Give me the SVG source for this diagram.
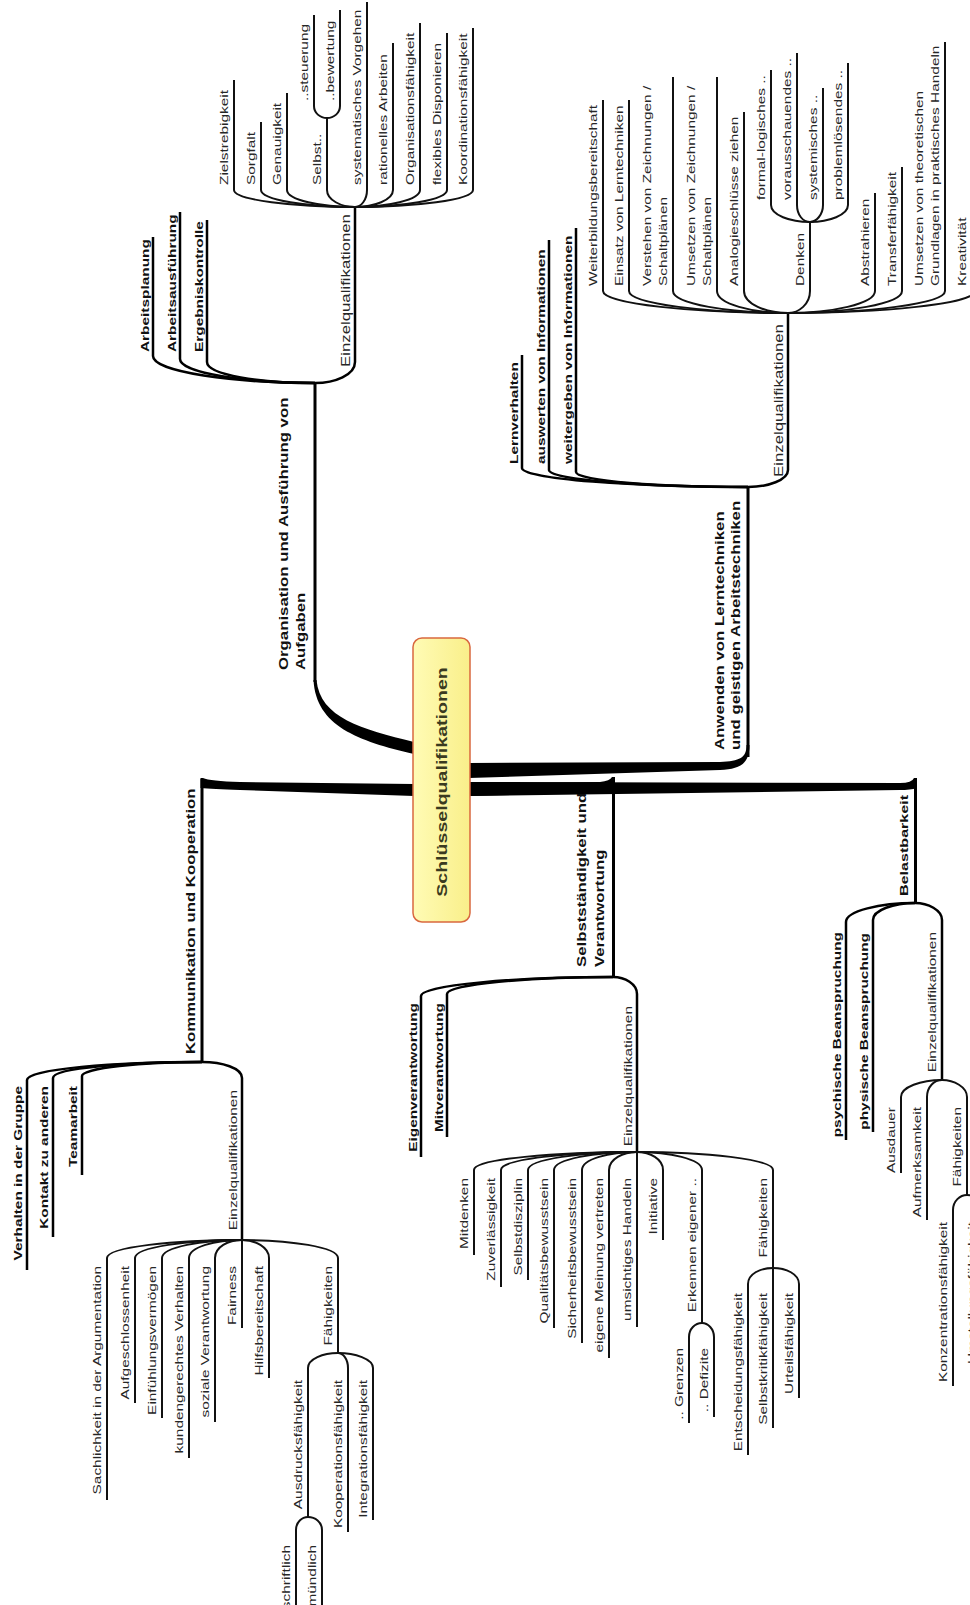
<svg xmlns="http://www.w3.org/2000/svg" width="970" height="1605" viewBox="0 0 970 1605">
<defs>
<style>
text{font-family:"Liberation Sans",Arial,Helvetica,sans-serif}
.b1{font-weight:bold;font-size:12px;fill:#111}
.b2{font-weight:bold;font-size:11px;fill:#111}
.r1{font-size:12px;fill:#262626}
.r2{font-size:11px;fill:#262626}
.e{text-anchor:end}
.root{font-weight:bold;font-size:14px;fill:#3a3a20;text-anchor:middle}
.l0{fill:none;stroke:#000;stroke-width:3}
.l1{fill:none;stroke:#000;stroke-width:2.5}
.l2{fill:none;stroke:#111;stroke-width:2}
.trunk{fill:#000}
</style>
<linearGradient id="boxg" x1="0" y1="0" x2="1" y2="0">
<stop offset="0" stop-color="#fffbb5"/>
<stop offset="1" stop-color="#f9ef8a"/>
</linearGradient>
</defs>
<rect width="970" height="1605" fill="#fff"/>

<g id="connectors">
<!-- trunks from root -->
<path class="trunk" d="M414,742 C362,729 320,718 316.5,680 L313.5,680 C316,726 358,741 414,754 Z"/>
<path class="trunk" d="M414,784 L240,782 Q210,781 203,778 L200.5,778 L200.5,788 Q212,789 240,790 L414,796 Z"/>
<path class="trunk" d="M469,763 L720,762 C740,761 746.5,758 746.5,745 L749.5,745 C749.5,764 740,769 720,770 L469,778 Z"/>
<path class="trunk" d="M469,783 L600,782 Q610,781 612,777 L615,777 L615,792 L469,796 Z"/>
<path class="trunk" d="M469,782 L900,783 Q912,783 914,778 L917,778 L917,788 Q910,790 900,790 L469,796 Z"/>
<!-- level-1 stems -->
<path class="l0" d="M315,682 V383"/>
<path class="l0" d="M748,757 V487"/>
<path class="l0" d="M202,779 V1062"/>
<path class="l0" d="M613.5,778 V977"/>
<path class="l0" d="M915.5,778 V903"/>

<!-- Organisation -->
<path class="l1" d="M153,237 V356 C153,372 234,383 315,383"/>
<path class="l1" d="M180,212 V359 C180,373 247,383 315,383"/>
<path class="l1" d="M207,220 V362 C207,375 261,383 315,383"/>
<path class="l1" d="M355,207 V362 C355,375 335,383 315,383"/>
<path class="l2" d="M234,80 V190 C234,200 294,207 355,207"/>
<path class="l2" d="M261,122 V190 C261,200 308,207 355,207"/>
<path class="l2" d="M287,93 V190 C287,200 321,207 355,207"/>
<path class="l2" d="M327,118 V190 C327,200 341,207 355,207"/>
<path class="l2" d="M367,2 V190 C367,200 361,207 355,207"/>
<path class="l2" d="M393,43 V190 C393,200 374,207 355,207"/>
<path class="l2" d="M420,23 V190 C420,200 387,207 355,207"/>
<path class="l2" d="M447,33 V190 C447,200 401,207 355,207"/>
<path class="l2" d="M473,28 V190 C473,200 414,207 355,207"/>
<path class="l2" d="M314,15 V106 C314,113 320,118 327,118"/>
<path class="l2" d="M340,10 V106 C340,113 334,118 327,118"/>

<!-- Anwenden -->
<path class="l1" d="M522,355 V468 C522,479 635,487 748,487"/>
<path class="l1" d="M549,240 V470 C549,480 648,487 748,487"/>
<path class="l1" d="M576,228 V472 C576,481 662,487 748,487"/>
<path class="l1" d="M788,313 V470 C788,480 768,487 748,487"/>
<path class="l2" d="M603,100 V291 C603,304 695,313 788,313"/>
<path class="l2" d="M629,100 V291 C629,304 708,313 788,313"/>
<path class="l2" d="M673,77 V291 C673,304 730,313 788,313"/>
<path class="l2" d="M717,77 V291 C717,304 752,313 788,313"/>
<path class="l2" d="M744,112 V291 C744,304 766,313 788,313"/>
<path class="l2" d="M810,222 V291 C810,304 799,313 788,313"/>
<path class="l2" d="M875,193 V291 C875,304 831,313 788,313"/>
<path class="l2" d="M902,167 V291 C902,304 845,313 788,313"/>
<path class="l2" d="M945,42 V291 C945,304 866,313 788,313"/>
<path class="l2" d="M975,205 V291 C975,304 881,313 788,313"/>
<path class="l2" d="M771,70 V205 C771,215 790,222 810,222"/>
<path class="l2" d="M797,53 V205 C797,215 803,222 810,222"/>
<path class="l2" d="M823,88 V205 C823,215 816,222 810,222"/>
<path class="l2" d="M848,63 V205 C848,215 829,222 810,222"/>

<!-- Kommunikation -->
<path class="l1" d="M27,1270 V1080 C27,1069 114,1062 202,1062"/>
<path class="l1" d="M53,1237 V1078 C53,1068 127,1062 202,1062"/>
<path class="l1" d="M82,1175 V1076 C82,1068 142,1062 202,1062"/>
<path class="l1" d="M242,1240 V1078 C242,1068 222,1062 202,1062"/>
<path class="l2" d="M107,1500 V1258 C107,1247 174,1240 242,1240"/>
<path class="l2" d="M135,1403 V1258 C135,1247 188,1240 242,1240"/>
<path class="l2" d="M162,1418 V1258 C162,1247 202,1240 242,1240"/>
<path class="l2" d="M189,1458 V1258 C189,1247 215,1240 242,1240"/>
<path class="l2" d="M215,1422 V1258 C215,1247 228,1240 242,1240"/>
<path class="l2" d="M242,1328 V1240"/>
<path class="l2" d="M269,1378 V1258 C269,1247 255,1240 242,1240"/>
<path class="l2" d="M338,1353 V1258 C338,1247 290,1240 242,1240"/>
<path class="l2" d="M308,1517 V1368 C308,1359 323,1353 338,1353"/>
<path class="l2" d="M348,1532 V1368 C348,1359 343,1353 338,1353"/>
<path class="l2" d="M373,1520 V1368 C373,1359 355,1353 338,1353"/>
<path class="l2" d="M296,1610 V1530 C296,1522 302,1517 308,1517"/>
<path class="l2" d="M322,1610 V1530 C322,1522 315,1517 308,1517"/>

<!-- Selbststaendigkeit -->
<path class="l1" d="M421,1157 V996 C421,985 517,977 613,977"/>
<path class="l1" d="M447,1137 V994 C447,984 530,977 613,977"/>
<path class="l1" d="M637,1152 V994 C637,984 625,977 613,977"/>
<path class="l2" d="M474,1255 V1170 C474,1159 555,1152 637,1152"/>
<path class="l2" d="M501,1287 V1170 C501,1159 569,1152 637,1152"/>
<path class="l2" d="M528,1280 V1170 C528,1159 582,1152 637,1152"/>
<path class="l2" d="M554,1328 V1170 C554,1159 595,1152 637,1152"/>
<path class="l2" d="M582,1343 V1170 C582,1159 609,1152 637,1152"/>
<path class="l2" d="M609,1358 V1170 C609,1159 623,1152 637,1152"/>
<path class="l2" d="M637,1327 V1152"/>
<path class="l2" d="M663,1240 V1170 C663,1159 650,1152 637,1152"/>
<path class="l2" d="M702,1323 V1170 C702,1159 669,1152 637,1152"/>
<path class="l2" d="M773,1268 V1170 C773,1159 705,1152 637,1152"/>
<path class="l2" d="M689,1423 V1337 C689,1329 695,1323 702,1323"/>
<path class="l2" d="M714,1417 V1337 C714,1329 708,1323 702,1323"/>
<path class="l2" d="M748,1455 V1284 C748,1274 760,1268 773,1268"/>
<path class="l2" d="M773,1428 V1268"/>
<path class="l2" d="M799,1398 V1284 C799,1274 786,1268 773,1268"/>

<!-- Belastbarkeit -->
<path class="l1" d="M846,1140 V922 C846,911 880,903 915,903"/>
<path class="l1" d="M873,1132 V920 C873,910 894,903 915,903"/>
<path class="l1" d="M942,1080 V920 C942,910 928,903 915,903"/>
<path class="l2" d="M901,1173 V1097 C901,1087 921,1080 942,1080"/>
<path class="l2" d="M927,1220 V1097 C927,1087 934,1080 942,1080"/>
<path class="l2" d="M967,1195 V1097 C967,1087 954,1080 942,1080"/>
<path class="l2" d="M953,1386 V1210 C953,1201 960,1195 967,1195"/>
<path class="l2" d="M982,1384 V1210 C982,1201 974,1195 967,1195"/>
</g>

<g id="root">
<rect x="413" y="638" width="57" height="284" rx="9" fill="url(#boxg)" stroke="#d9683f" stroke-width="1.5"/>
<text class="root" transform="translate(447,782) rotate(-90) scale(1.4,1)">Schlüsselqualifikationen</text>
</g>

<g id="n-organisation">
<text class="b1" transform="translate(288,670) rotate(-90) scale(1.4,1)">Organisation und Ausführung von</text>
<text class="b1" transform="translate(305,670) rotate(-90) scale(1.4,1)">Aufgaben</text>
</g>
<g id="n-arbeitsplanung"><text class="b2" transform="translate(149,352) rotate(-90) scale(1.4,1)">Arbeitsplanung</text></g>
<g id="n-arbeitsausfuehrung"><text class="b2" transform="translate(176,352) rotate(-90) scale(1.4,1)">Arbeitsausführung</text></g>
<g id="n-ergebniskontrolle"><text class="b2" transform="translate(203,352) rotate(-90) scale(1.4,1)">Ergebniskontrolle</text></g>
<g id="n-org-einzel"><text class="r1" transform="translate(350,367) rotate(-90) scale(1.4,1)">Einzelqualifikationen</text></g>
<g id="n-zielstrebigkeit"><text class="r2" transform="translate(228,185) rotate(-90) scale(1.4,1)">Zielstrebigkeit</text></g>
<g id="n-sorgfalt"><text class="r2" transform="translate(255,185) rotate(-90) scale(1.4,1)">Sorgfalt</text></g>
<g id="n-genauigkeit"><text class="r2" transform="translate(281,185) rotate(-90) scale(1.4,1)">Genauigkeit</text></g>
<g id="n-selbst"><text class="r2" transform="translate(321,185) rotate(-90) scale(1.4,1)">Selbst..</text></g>
<g id="n-steuerung"><text class="r2" transform="translate(308,101) rotate(-90) scale(1.4,1)">..steuerung</text></g>
<g id="n-bewertung"><text class="r2" transform="translate(334,101) rotate(-90) scale(1.4,1)">..bewertung</text></g>
<g id="n-systematisch"><text class="r2" transform="translate(361,185) rotate(-90) scale(1.4,1)">systematisches Vorgehen</text></g>
<g id="n-rationell"><text class="r2" transform="translate(387,185) rotate(-90) scale(1.4,1)">rationelles Arbeiten</text></g>
<g id="n-organisationsf"><text class="r2" transform="translate(414,185) rotate(-90) scale(1.4,1)">Organisationsfähigkeit</text></g>
<g id="n-flexibel"><text class="r2" transform="translate(441,185) rotate(-90) scale(1.4,1)">flexibles Disponieren</text></g>
<g id="n-koordination"><text class="r2" transform="translate(467,185) rotate(-90) scale(1.4,1)">Koordinationsfähigkeit</text></g>

<g id="n-anwenden">
<text class="b1" transform="translate(724,750) rotate(-90) scale(1.4,1)">Anwenden von Lerntechniken</text>
<text class="b1" transform="translate(740,750) rotate(-90) scale(1.4,1)">und geistigen Arbeitstechniken</text>
</g>
<g id="n-lernverhalten"><text class="b2" transform="translate(518,464) rotate(-90) scale(1.4,1)">Lernverhalten</text></g>
<g id="n-auswerten"><text class="b2" transform="translate(545,464) rotate(-90) scale(1.4,1)">auswerten von Informationen</text></g>
<g id="n-weitergeben"><text class="b2" transform="translate(572,464) rotate(-90) scale(1.4,1)">weitergeben von Informationen</text></g>
<g id="n-anw-einzel"><text class="r1" transform="translate(783,477) rotate(-90) scale(1.4,1)">Einzelqualifikationen</text></g>
<g id="n-weiterbildung"><text class="r2" transform="translate(597,286) rotate(-90) scale(1.4,1)">Weiterbildungsbereitschaft</text></g>
<g id="n-einsatz"><text class="r2" transform="translate(623,286) rotate(-90) scale(1.4,1)">Einsatz von Lerntechniken</text></g>
<g id="n-verstehen">
<text class="r2" transform="translate(651,286) rotate(-90) scale(1.4,1)">Verstehen von Zeichnungen /</text>
<text class="r2" transform="translate(667,286) rotate(-90) scale(1.4,1)">Schaltplänen</text>
</g>
<g id="n-umsetzen">
<text class="r2" transform="translate(695,286) rotate(-90) scale(1.4,1)">Umsetzen von Zeichnungen /</text>
<text class="r2" transform="translate(711,286) rotate(-90) scale(1.4,1)">Schaltplänen</text>
</g>
<g id="n-analogie"><text class="r2" transform="translate(738,286) rotate(-90) scale(1.4,1)">Analogieschlüsse ziehen</text></g>
<g id="n-denken"><text class="r2" transform="translate(804,286) rotate(-90) scale(1.4,1)">Denken</text></g>
<g id="n-formal"><text class="r2" transform="translate(765,200) rotate(-90) scale(1.4,1)">formal-logisches ..</text></g>
<g id="n-voraus"><text class="r2" transform="translate(791,200) rotate(-90) scale(1.4,1)">vorausschauendes ..</text></g>
<g id="n-systemisch"><text class="r2" transform="translate(817,200) rotate(-90) scale(1.4,1)">systemisches ..</text></g>
<g id="n-problem"><text class="r2" transform="translate(842,200) rotate(-90) scale(1.4,1)">problemlösendes ..</text></g>
<g id="n-abstrahieren"><text class="r2" transform="translate(869,286) rotate(-90) scale(1.4,1)">Abstrahieren</text></g>
<g id="n-transfer"><text class="r2" transform="translate(896,286) rotate(-90) scale(1.4,1)">Transferfähigkeit</text></g>
<g id="n-theorie">
<text class="r2" transform="translate(923,286) rotate(-90) scale(1.4,1)">Umsetzen von theoretischen</text>
<text class="r2" transform="translate(939,286) rotate(-90) scale(1.4,1)">Grundlagen in praktisches Handeln</text>
</g>
<g id="n-kreativitaet"><text class="r2" transform="translate(966,286) rotate(-90) scale(1.4,1)">Kreativität</text></g>

<g id="n-kommunikation"><text class="b1" transform="translate(195,1054) rotate(-90) scale(1.4,1)">Kommunikation und Kooperation</text></g>
<g id="n-verhalten"><text class="b2 e" transform="translate(22,1086) rotate(-90) scale(1.4,1)">Verhalten in der Gruppe</text></g>
<g id="n-kontakt"><text class="b2 e" transform="translate(48,1086) rotate(-90) scale(1.4,1)">Kontakt zu anderen</text></g>
<g id="n-teamarbeit"><text class="b2 e" transform="translate(77,1086) rotate(-90) scale(1.4,1)">Teamarbeit</text></g>
<g id="n-kom-einzel"><text class="r2 e" transform="translate(237,1090) rotate(-90) scale(1.4,1)">Einzelqualifikationen</text></g>
<g id="n-sachlichkeit"><text class="r2 e" transform="translate(101,1266) rotate(-90) scale(1.4,1)">Sachlichkeit in der Argumentation</text></g>
<g id="n-aufgeschlossen"><text class="r2 e" transform="translate(129,1266) rotate(-90) scale(1.4,1)">Aufgeschlossenheit</text></g>
<g id="n-einfuehlung"><text class="r2 e" transform="translate(156,1266) rotate(-90) scale(1.4,1)">Einfühlungsvermögen</text></g>
<g id="n-kunden"><text class="r2 e" transform="translate(183,1266) rotate(-90) scale(1.4,1)">kundengerechtes Verhalten</text></g>
<g id="n-sozial"><text class="r2 e" transform="translate(209,1266) rotate(-90) scale(1.4,1)">soziale Verantwortung</text></g>
<g id="n-fairness"><text class="r2 e" transform="translate(236,1266) rotate(-90) scale(1.4,1)">Fairness</text></g>
<g id="n-hilfsbereit"><text class="r2 e" transform="translate(263,1266) rotate(-90) scale(1.4,1)">Hilfsbereitschaft</text></g>
<g id="n-kom-faehig"><text class="r2 e" transform="translate(332,1266) rotate(-90) scale(1.4,1)">Fähigkeiten</text></g>
<g id="n-ausdruck"><text class="r2 e" transform="translate(302,1380) rotate(-90) scale(1.4,1)">Ausdrucksfähigkeit</text></g>
<g id="n-kooperation"><text class="r2 e" transform="translate(342,1380) rotate(-90) scale(1.4,1)">Kooperationsfähigkeit</text></g>
<g id="n-integration"><text class="r2 e" transform="translate(367,1380) rotate(-90) scale(1.4,1)">Integrationsfähigkeit</text></g>
<g id="n-schriftlich"><text class="r2 e" transform="translate(290,1545) rotate(-90) scale(1.4,1)">schriftlich</text></g>
<g id="n-muendlich"><text class="r2 e" transform="translate(316,1545) rotate(-90) scale(1.4,1)">mündlich</text></g>

<g id="n-selbststaendigkeit">
<text class="b1" transform="translate(586,967) rotate(-90) scale(1.4,1)">Selbstständigkeit und</text>
<text class="b1" transform="translate(604,967) rotate(-90) scale(1.4,1)">Verantwortung</text>
</g>
<g id="n-eigenverantwortung"><text class="b2 e" transform="translate(417,1003) rotate(-90) scale(1.4,1)">Eigenverantwortung</text></g>
<g id="n-mitverantwortung"><text class="b2 e" transform="translate(443,1003) rotate(-90) scale(1.4,1)">Mitverantwortung</text></g>
<g id="n-sel-einzel"><text class="r2 e" transform="translate(632,1006) rotate(-90) scale(1.4,1)">Einzelqualifikationen</text></g>
<g id="n-mitdenken"><text class="r2 e" transform="translate(468,1178) rotate(-90) scale(1.4,1)">Mitdenken</text></g>
<g id="n-zuverlaessig"><text class="r2 e" transform="translate(495,1178) rotate(-90) scale(1.4,1)">Zuverlässigkeit</text></g>
<g id="n-selbstdisziplin"><text class="r2 e" transform="translate(522,1178) rotate(-90) scale(1.4,1)">Selbstdisziplin</text></g>
<g id="n-qualitaet"><text class="r2 e" transform="translate(548,1178) rotate(-90) scale(1.4,1)">Qualitätsbewusstsein</text></g>
<g id="n-sicherheit"><text class="r2 e" transform="translate(576,1178) rotate(-90) scale(1.4,1)">Sicherheitsbewusstsein</text></g>
<g id="n-meinung"><text class="r2 e" transform="translate(603,1178) rotate(-90) scale(1.4,1)">eigene Meinung vertreten</text></g>
<g id="n-umsichtig"><text class="r2 e" transform="translate(631,1178) rotate(-90) scale(1.4,1)">umsichtiges Handeln</text></g>
<g id="n-initiative"><text class="r2 e" transform="translate(657,1178) rotate(-90) scale(1.4,1)">Initiative</text></g>
<g id="n-erkennen"><text class="r2 e" transform="translate(696,1178) rotate(-90) scale(1.4,1)">Erkennen eigener ..</text></g>
<g id="n-grenzen"><text class="r2 e" transform="translate(683,1348) rotate(-90) scale(1.4,1)">.. Grenzen</text></g>
<g id="n-defizite"><text class="r2 e" transform="translate(708,1348) rotate(-90) scale(1.4,1)">.. Defizite</text></g>
<g id="n-sel-faehig"><text class="r2 e" transform="translate(767,1178) rotate(-90) scale(1.4,1)">Fähigkeiten</text></g>
<g id="n-entscheidung"><text class="r2 e" transform="translate(742,1293) rotate(-90) scale(1.4,1)">Entscheidungsfähigkeit</text></g>
<g id="n-selbstkritik"><text class="r2 e" transform="translate(767,1293) rotate(-90) scale(1.4,1)">Selbstkritikfähigkeit</text></g>
<g id="n-urteil"><text class="r2 e" transform="translate(793,1293) rotate(-90) scale(1.4,1)">Urteilsfähigkeit</text></g>

<g id="n-belastbarkeit"><text class="b1" style="font-size:11.5px" transform="translate(908,896) rotate(-90) scale(1.4,1)">Belastbarkeit</text></g>
<g id="n-psychisch"><text class="b2 e" transform="translate(841,932) rotate(-90) scale(1.4,1)">psychische Beanspruchung</text></g>
<g id="n-physisch"><text class="b2 e" transform="translate(868,933) rotate(-90) scale(1.4,1)">physische Beanspruchung</text></g>
<g id="n-bel-einzel"><text class="r2 e" transform="translate(936,932) rotate(-90) scale(1.4,1)">Einzelqualifikationen</text></g>
<g id="n-ausdauer"><text class="r2 e" transform="translate(895,1107) rotate(-90) scale(1.4,1)">Ausdauer</text></g>
<g id="n-aufmerksamkeit"><text class="r2 e" transform="translate(921,1107) rotate(-90) scale(1.4,1)">Aufmerksamkeit</text></g>
<g id="n-bel-faehig"><text class="r2 e" transform="translate(961,1107) rotate(-90) scale(1.4,1)">Fähigkeiten</text></g>
<g id="n-konzentration"><text class="r2 e" transform="translate(947,1222) rotate(-90) scale(1.4,1)">Konzentrationsfähigkeit</text></g>
<g id="n-umstellung"><text class="r2 e" transform="translate(976,1222) rotate(-90) scale(1.4,1)">Umstellungsfähigkeit</text></g>
</svg>
